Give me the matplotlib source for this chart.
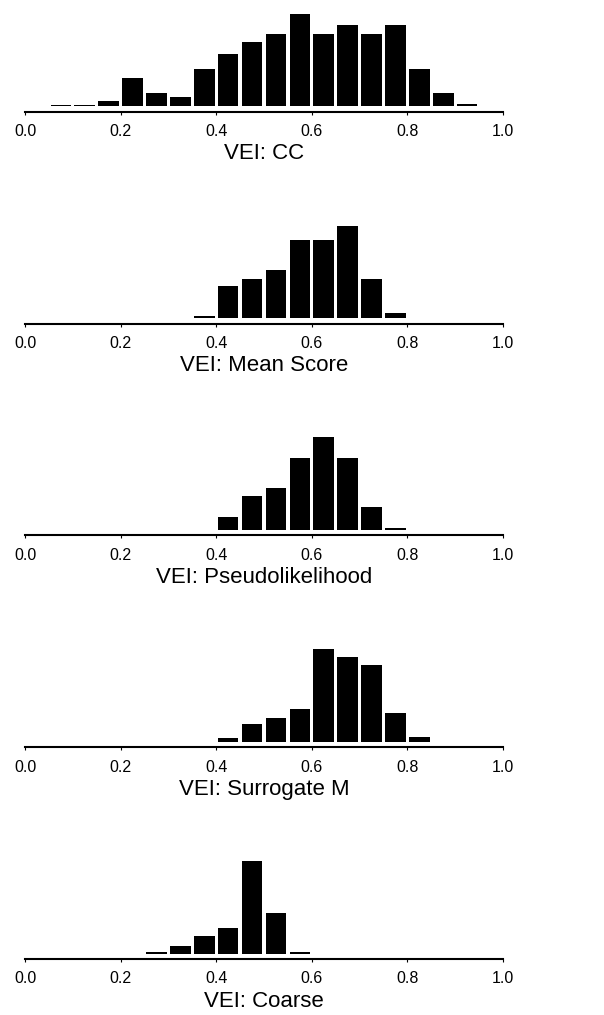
"""Five stacked histograms of VEI scores, one per estimation method."""

import matplotlib

matplotlib.use("Agg")
import matplotlib.pyplot as plt
import numpy as np

plt.rcParams["font.family"] = ["Liberation Sans", "DejaVu Sans"]

# ---------------------------------------------------------------------------
# Data: bin left edges (width 0.05) and relative bar heights
# ---------------------------------------------------------------------------
BIN_WIDTH = 0.05

cc_bins = [0.05, 0.10, 0.15, 0.20, 0.25, 0.30, 0.35, 0.40, 0.45,
           0.50, 0.55, 0.60, 0.65, 0.70, 0.75, 0.80, 0.85, 0.90]
cc_heights = [0.5, 0.5, 1.7, 8.7, 4.0, 2.8, 11.4, 16.0, 19.5,
              22.0, 28.1, 22.0, 24.6, 22.0, 24.6, 11.4, 4.0, 0.6]

mean_bins = [0.35, 0.40, 0.45, 0.50, 0.55, 0.60, 0.65, 0.70, 0.75]
mean_heights = [0.8, 9.8, 11.9, 14.6, 23.5, 23.5, 27.9, 11.9, 1.6]

pseudo_bins = [0.40, 0.45, 0.50, 0.55, 0.60, 0.65, 0.70, 0.75]
pseudo_heights = [3.8, 10.2, 12.6, 21.3, 27.6, 21.3, 6.8, 0.7]

surr_bins = [0.40, 0.45, 0.50, 0.55, 0.60, 0.65, 0.70, 0.75, 0.80]
surr_heights = [1.3, 5.5, 7.3, 9.9, 28.0, 25.6, 23.1, 8.6, 1.5]

coarse_bins = [0.25, 0.30, 0.35, 0.40, 0.45, 0.50, 0.55]
coarse_heights = [0.5, 2.4, 5.3, 7.7, 27.5, 12.1, 0.5]

titles = ["VEI: CC", "VEI: Mean Score", "VEI: Pseudolikelihood",
          "VEI: Surrogate M", "VEI: Coarse"]
panels = [(cc_bins, cc_heights), (mean_bins, mean_heights),
          (pseudo_bins, pseudo_heights), (surr_bins, surr_heights),
          (coarse_bins, coarse_heights)]
xticks = [0.0, 0.2, 0.4, 0.6, 0.8, 1.0]

# ---------------------------------------------------------------------------
# Layout (pixels on a 604 x 1015 canvas)
# ---------------------------------------------------------------------------
W, H = 604, 1015
DPI = 100
LEFT, RIGHT = 25, 503          # x = 0 and x = 1
FIRST_AXIS_Y, STEP = 111.7, 211.8
AX_H = 98                       # axis line to top of tallest bar
BASE_GAP = 0.057                # bars float slightly above the axis line

fig = plt.figure(figsize=(W / DPI, H / DPI), dpi=DPI)

for i, ((bins, heights), title) in enumerate(zip(panels, titles)):
    axis_y = FIRST_AXIS_Y + i * STEP
    ax = fig.add_axes([LEFT / W, 1 - axis_y / H, (RIGHT - LEFT) / W, AX_H / H])

    centres = np.asarray(bins) + BIN_WIDTH / 2
    ax.bar(centres, heights, width=BIN_WIDTH * 0.86, color="black",
           edgecolor="none")

    top = max(heights)
    ax.set_xlim(0, 1)
    ax.set_ylim(-BASE_GAP * top, top)

    for side in ("top", "right", "left"):
        ax.spines[side].set_visible(False)
    ax.spines["bottom"].set_linewidth(1.5)
    ax.set_yticks([])
    ax.set_xticks(xticks)
    ax.set_xticklabels([f"{t:.1f}" for t in xticks])
    ax.tick_params(axis="x", length=2, width=0.8, pad=7, labelsize=11.5)
    ax.set_xlabel(title, fontsize=16, labelpad=3)

fig.savefig("out.png", dpi=DPI)
